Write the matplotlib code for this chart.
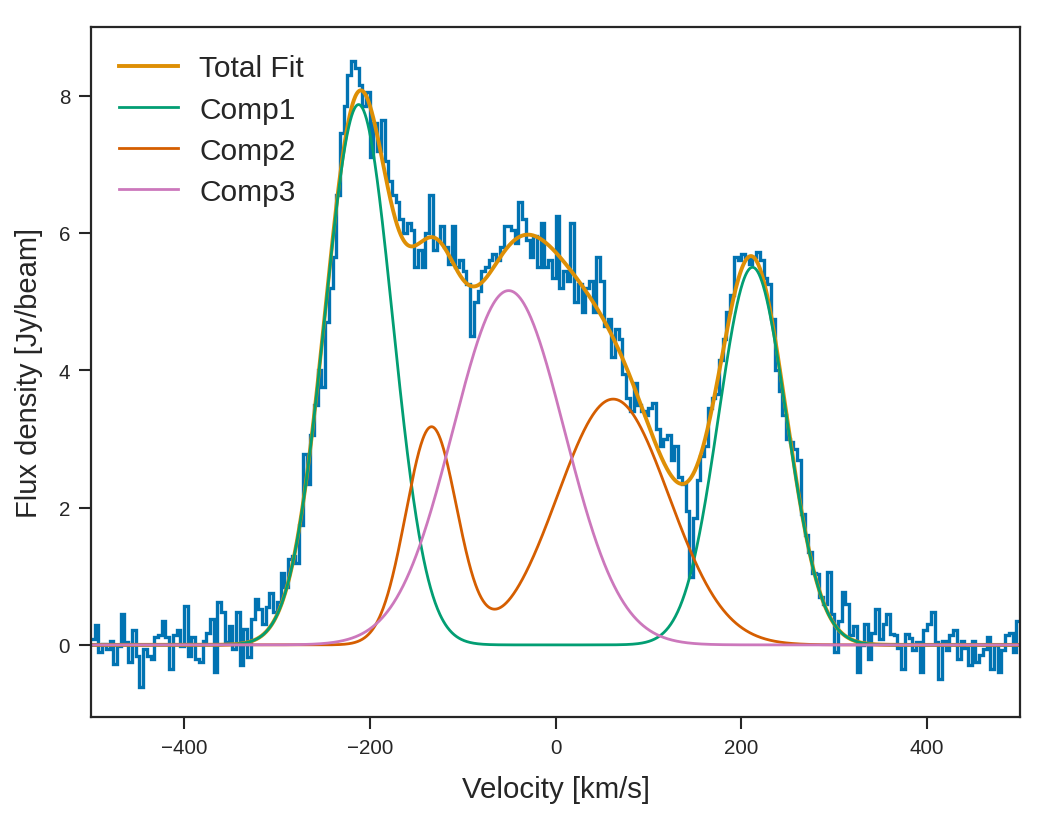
import numpy as np
import matplotlib
matplotlib.use('Agg')
import matplotlib.pyplot as plt

# spectrum: 250 channels of 4 km/s from -500 to 500 km/s
vel_min, vel_max = -500, 500
flux = [
    # -500 .. -312
    0.09, 0.29, -0.11, 0.01, -0.06, 0.06, -0.28, -0.01, 0.45, 0.04,
    -0.25, 0.22, -0.16, -0.62, -0.06, -0.16, -0.20, 0.11, 0.15, 0.35,
    0.11, -0.35, 0.15, 0.22, -0.01, 0.57, -0.16, 0.11, -0.20, -0.25,
    0.06, 0.18, 0.38, -0.40, 0.62, 0.48, 0.04, 0.28, -0.06, 0.48,
    -0.30, 0.23, -0.18, 0.38, 0.67, 0.52, 0.31,
    # -312 .. -220
    0.55, 0.75, 0.48, 0.62, 1.05, 0.85, 1.25, 1.30, 1.20, 1.75,
    2.78, 2.35, 3.05, 3.50, 4.00, 3.75, 4.70, 5.20, 5.65, 6.55,
    7.45, 7.85, 8.30,
    # -220 .. -100
    8.50, 8.40, 8.15, 7.85, 8.05, 7.10, 7.60, 7.20, 7.65, 7.05,
    6.75, 6.55, 6.45, 6.20, 6.00, 6.15, 6.05, 5.50, 5.75, 5.50,
    6.00, 6.55, 5.75, 5.90, 6.10, 5.80, 5.55, 6.10, 5.50, 5.60,
    # -100 .. 40
    5.45, 5.25, 4.50, 5.00, 5.15, 5.45, 5.50, 5.60, 5.70, 5.60,
    5.80, 6.10, 6.10, 6.05, 5.85, 6.45, 6.20, 5.90, 5.65, 5.95,
    5.50, 6.15, 5.50, 5.60, 5.35, 6.25, 5.20, 5.45, 5.30, 6.15,
    5.00, 5.25, 4.85, 5.20, 5.30,
    # 40 .. 160
    4.85, 5.65, 5.30, 4.65, 4.75, 4.20, 4.60, 4.45, 3.95, 3.60,
    3.40, 3.82, 3.50, 3.40, 3.35, 3.45, 3.53, 3.15, 2.90, 3.00,
    3.05, 2.70, 2.90, 2.45, 2.35, 1.95, 0.99, 1.85, 2.40, 2.75,
    # 160 .. 280
    2.90, 3.45, 3.60, 3.65, 4.15, 4.45, 4.85, 5.10, 5.65, 5.60,
    5.70, 5.65, 5.55, 5.65, 5.72, 5.60, 5.35, 5.25, 4.75, 4.00,
    3.70, 3.35, 3.00, 2.95, 2.85, 2.70, 1.90, 1.60, 1.35, 1.05,
    # 280 .. 500
    1.03, 0.70, 0.60, 1.06, 0.45, -0.11, 0.35, 0.77, 0.60, 0.14,
    0.28, -0.40, 0.00, 0.31, -0.20, 0.18, 0.52, 0.09, 0.30, 0.45,
    0.16, 0.14, -0.05, -0.35, 0.16, 0.10, -0.08, 0.04, -0.40, 0.21,
    0.30, 0.48, 0.04, -0.49, 0.06, -0.08, 0.15, 0.21, -0.20, 0.06,
    -0.05, -0.30, 0.06, -0.25, -0.15, -0.06, 0.11, -0.35, 0.00, -0.40,
    -0.08, 0.14, 0.18, -0.11, 0.35,
]

# gaussian fit components: centre [km/s], amplitude [Jy/beam], sigma [km/s]
comp_names = ['Comp1', 'Comp2', 'Comp3']
comp_centres = [[-212.0, 212.0], [-133.7, 62.0], [-50.5]]
comp_amps = [[7.87, 5.50], [3.16, 3.58], [5.16]]
comp_sigmas = [[36.5, 36.5], [27.5, 60.0], [60.0]]

colors = {'data': '#0173b2', 'total': '#de8f05',
          'Comp1': '#029e73', 'Comp2': '#d55e00', 'Comp3': '#cc78bc'}

plt.rcParams['font.family'] = ['Liberation Sans', 'DejaVu Sans']
plt.rcParams['axes.edgecolor'] = '#262626'
plt.rcParams['text.color'] = '#262626'
plt.rcParams['axes.labelcolor'] = '#262626'
plt.rcParams['xtick.color'] = '#262626'
plt.rcParams['ytick.color'] = '#262626'


def gauss(v, centres, amps, sigmas):
    out = np.zeros_like(v)
    for c, a, s in zip(centres, amps, sigmas):
        out += a * np.exp(-0.5 * ((v - c) / s) ** 2)
    return out


edges = np.linspace(vel_min, vel_max, len(flux) + 1)
v = np.linspace(vel_min, vel_max, 2001)
comps = [gauss(v, c, a, s) for c, a, s in zip(comp_centres, comp_amps, comp_sigmas)]
total = np.sum(comps, axis=0)

fig = plt.figure(figsize=(10.49, 8.2), dpi=100)
ax = fig.add_axes([0.0868, 0.1244, 0.8856, 0.8415])

ax.stairs(flux, edges, color=colors['data'], lw=2.4, baseline=None)
ax.plot(v, total, color=colors['total'], lw=2.8, label='Total Fit')
for name, y in zip(comp_names, comps):
    ax.plot(v, y, color=colors[name], lw=2.0, label=name)

ax.set_xlim(vel_min, vel_max)
ax.set_ylim(-1.05, 9.0)
ax.set_yticks([0, 2, 4, 6, 8])
ax.set_xticks([-400, -200, 0, 200, 400])
ax.set_xlabel('Velocity [km/s]', fontsize=21.2, labelpad=13)
ax.set_ylabel('Flux density [Jy/beam]', fontsize=21, labelpad=11)
ax.tick_params(labelsize=14.8, length=8.5, width=1.5, pad=6.5, direction='out')
for sp in ax.spines.values():
    sp.set_linewidth(1.6)

ax.legend(loc='upper left', frameon=False, fontsize=21.5, labelspacing=0.44,
          handletextpad=0.7, borderaxespad=0.52)

fig.savefig('out.png', dpi=100)
